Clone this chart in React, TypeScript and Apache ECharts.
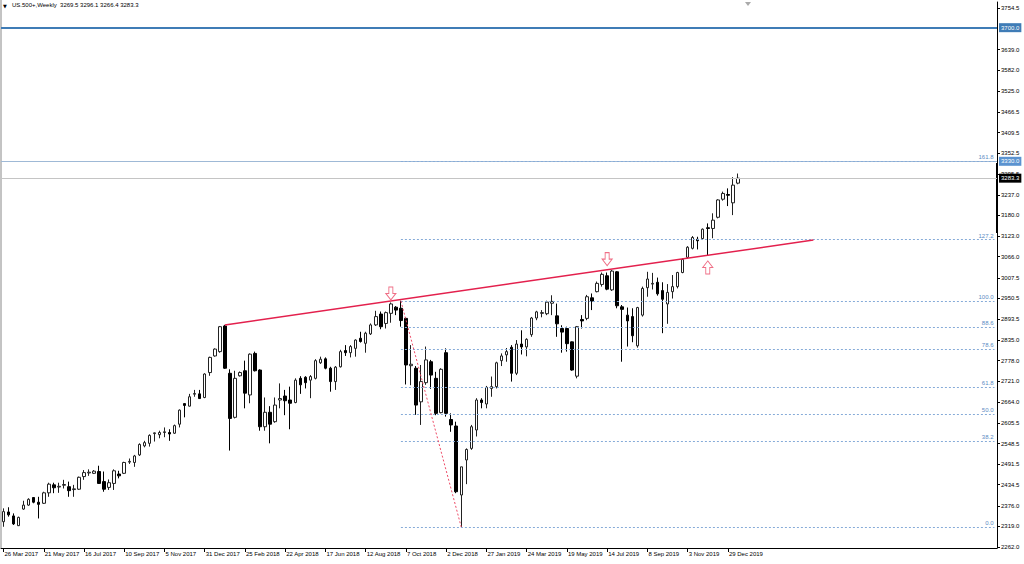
import React, { useEffect, useRef } from "react";
import * as echarts from "echarts";

// Weekly candles: [open, close, low, high], first week starts 26 Mar 2017
const candles: number[][] = [
  [2332,2360,2318,2369],[2359,2351,2346,2372],[2348,2326,2323,2355],[2321,2344,2320,2346],
  [2367,2378,2365,2390],[2378,2394,2376,2397],[2399,2386,2383,2400],[2386,2380,2341,2401],
  [2383,2412,2381,2415],[2412,2436,2401,2440],[2434,2426,2411,2440],[2428,2430,2412,2440],
  [2433,2435,2424,2448],[2429,2418,2401,2443],[2421,2423,2401,2434],[2422,2455,2420,2457],
  [2457,2468,2448,2475],[2467,2469,2459,2477],[2466,2472,2464,2475],[2471,2438,2437,2487],
  [2443,2422,2415,2471],[2427,2440,2420,2449],[2438,2473,2420,2477],[2464,2459,2452,2473],
  [2466,2496,2464,2498],[2497,2499,2492,2507],[2496,2514,2484,2517],[2517,2546,2514,2549],
  [2542,2551,2538,2556],[2549,2571,2540,2574],[2576,2578,2554,2579],[2573,2579,2563,2584],
  [2579,2581,2566,2593],[2579,2575,2556,2588],[2577,2598,2575,2601],[2602,2641,2593,2643],
  [2659,2654,2621,2660],[2652,2678,2651,2686],[2685,2687,2678,2697],[2686,2673,2672,2697],
  [2676,2741,2674,2743],[2745,2787,2736,2789],[2791,2810,2789,2812],[2803,2872,2800,2874],
  [2874,2757,2755,2877],[2743,2618,2529,2754],[2621,2729,2618,2750],[2736,2745,2734,2748],
  [2750,2688,2646,2778],[2683,2796,2660,2798],[2798,2750,2748,2803],[2752,2595,2584,2754],
  [2595,2635,2584,2676],[2635,2602,2549,2652],[2609,2655,2606,2676],[2669,2673,2646,2715],
  [2680,2667,2627,2697],[2669,2660,2588,2706],[2662,2724,2660,2729],[2729,2711,2686,2735],
  [2732,2717,2701,2735],[2724,2734,2674,2738],[2729,2778,2726,2782],[2772,2782,2769,2789],
  [2783,2757,2754,2787],[2757,2720,2692,2761],[2720,2760,2697,2763],[2761,2803,2759,2808],
  [2806,2800,2791,2821],[2800,2817,2787,2821],[2812,2835,2789,2837],[2840,2831,2828,2858],
  [2826,2854,2800,2858],[2852,2877,2849,2881],[2877,2900,2874,2916],[2907,2872,2865,2914],
  [2881,2911,2867,2914],[2909,2935,2883,2939],[2926,2918,2904,2929],[2923,2889,2872,2944],
  [2895,2766,2712,2898],[2764,2768,2710,2821],[2757,2655,2628,2763],[2664,2720,2600,2766],
  [2717,2780,2711,2817],[2775,2738,2700,2780],[2729,2632,2627,2747],[2634,2754,2632,2757],
  [2800,2632,2623,2812],[2615,2600,2581,2632],[2597,2415,2411,2609],[2406,2484,2317,2484],
  [2503,2532,2436,2535],[2535,2595,2531,2600],[2586,2669,2568,2674],[2669,2662,2646,2674],
  [2658,2704,2646,2708],[2701,2706,2678,2734],[2706,2772,2701,2775],[2778,2791,2763,2798],
  [2794,2803,2775,2813],[2815,2743,2720,2821],[2743,2824,2738,2835],[2824,2816,2795,2862],
  [2816,2837,2790,2840],[2850,2896,2844,2899],[2896,2913,2890,2916],[2909,2911,2898,2918],
  [2908,2940,2904,2944],[2937,2942,2904,2959],[2902,2880,2844,2936],[2867,2857,2800,2876],
  [2867,2825,2803,2872],[2830,2752,2750,2831],[2735,2872,2729,2874],[2892,2888,2867,2904],
  [2895,2955,2890,2960],[2952,2943,2918,2964],[2969,2992,2967,2997],[2989,3017,2983,3022],
  [3013,2976,2973,3022],[2974,3026,2971,3029],[3024,2930,2923,3026],[2927,2920,2775,2932],
  [2904,2888,2817,2925],[2900,2847,2829,2923],[2819,2925,2814,2927],[2904,2978,2900,2983],
  [2980,3004,2955,3024],[2990,2992,2975,3021],[2995,2963,2958,3008],[2972,2948,2854,2995],
  [2935,2967,2880,2990],[2969,2983,2950,3015],[2983,3022,2978,3024],[3022,3058,3020,3061],
  [3064,3092,3061,3095],[3089,3119,3086,3123],[3114,3110,3086,3121],[3116,3142,3112,3144],
  [3146,3144,3068,3158],[3144,3167,3117,3186],[3175,3223,3172,3225],[3225,3241,3221,3246],
  [3238,3236,3206,3255],[3215,3264,3181,3286],[3269.5,3283.3,3266.4,3296.1],
];

const totalWeeks = 198; // visible slots incl. empty space on the right
const yTicks = [2262.0, 2319.0, 2376.0, 2434.5, 2491.5, 2548.5, 2605.5, 2664.0, 2721.0, 2778.0,
  2835.0, 2893.5, 2950.5, 3007.5, 3066.0, 3123.0, 3180.0, 3237.0, 3295.5, 3352.5, 3409.5,
  3466.5, 3525.0, 3582.0, 3639.0, 3754.5];
const yMin = 2259.2;
const yMax = 3771.1;

const resistanceLevel = 3700.0;
const upperLevel = 3330.0;
const lastPrice = 3283.3;

const trendStart = [44, 2877];
const trendEnd = [161, 3112];

const fibHigh = { idx: 79, price: 2943 };
const fibLow = { idx: 91, price: 2317 };
const fibLevels = [0.0, 38.2, 50.0, 61.8, 78.6, 88.6, 100.0, 127.2, 161.8];

const arrowsDown = [[77, 2964], [120, 3059]];
const arrowsUp = [[140, 3036]];

const MONTHS = ["Jan","Feb","Mar","Apr","May","Jun","Jul","Aug","Sep","Oct","Nov","Dec"];
const categories: string[] = [];
for (let i = 0; i < totalWeeks; i++) {
  const d = new Date(Date.UTC(2017, 2, 26) + i * 7 * 86400000);
  categories.push(`${d.getUTCDate()} ${MONTHS[d.getUTCMonth()]} ${d.getUTCFullYear()}`);
}

const FONT = "Liberation Sans";
const arrowDownPath = "path://M3,0 L7,0 L7,6 L10,6 L5,12 L0,6 L3,6 Z";
const arrowUpPath = "path://M5,0 L10,6 L7,6 L7,12 L3,12 L3,6 L0,6 Z";

export default function App() {
  const ref = useRef<HTMLDivElement>(null);
  useEffect(() => {
    if (!ref.current) return;
    const chart = echarts.init(ref.current, undefined, { renderer: "svg" });
    const last = candles[candles.length - 1];
    const fibRange = fibHigh.price - fibLow.price;
    const fibLines = fibLevels.map((lvl) => {
      const p = fibLow.price + (fibRange * lvl) / 100;
      return [
        {
          coord: [fibHigh.idx, p],
          lineStyle: { color: "#86abd8", type: [2, 2], width: 1 },
          label: {
            show: true,
            position: "insideEndTop",
            formatter: lvl.toFixed(1),
            color: "#5b8cc4",
            fontSize: 6,
            fontFamily: FONT,
            distance: 1,
          },
        },
        { coord: [totalWeeks - 1, p] },
      ];
    });
    const lastIdx = candles.length - 1;
    const labelIdx = (i: number) => i % 8 === 0 && i <= lastIdx;
    chart.setOption({
      animation: false,
      backgroundColor: "#ffffff",
      grid: { left: 1, right: 27, top: 2, bottom: 16 },
      xAxis: {
        type: "category",
        data: categories,
        boundaryGap: true,
        axisLine: { show: true, lineStyle: { color: "#000", width: 1 } },
        axisTick: { show: true, interval: labelIdx, alignWithLabel: true, length: 4, lineStyle: { color: "#000" } },
        axisLabel: {
          interval: labelIdx,
          align: "left",
          margin: 3,
          padding: [0, 0, 0, 1],
          fontSize: 6,
          fontFamily: FONT,
          color: "#000",
        },
        splitLine: { show: false },
      },
      yAxis: {
        type: "value",
        position: "right",
        min: yMin,
        max: yMax,
        scale: true,
        axisLine: { show: true, lineStyle: { color: "#000", width: 1 } },
        axisTick: { show: true, customValues: yTicks, length: 3, lineStyle: { color: "#000" } },
        axisLabel: {
          customValues: yTicks,
          formatter: (v: number) => v.toFixed(1),
          fontSize: 6,
          fontFamily: FONT,
          color: "#000",
          margin: 4,
        },
        splitLine: { show: false },
      },
      graphic: [
        { type: "text", left: 3, top: 3, style: { text: "▼", fontSize: 5, fill: "#000", fontFamily: "DejaVu Sans" } },
        {
          type: "text",
          left: 12,
          top: 2,
          style: {
            text: `US.500+,Weekly  ${last[0].toFixed(1)} ${last[3].toFixed(1)} ${last[2].toFixed(1)} ${last[1].toFixed(1)}`,
            fontSize: 6,
            fill: "#000",
            fontFamily: FONT,
          },
        },
        { type: "line", shape: { x1: 1, y1: 0, x2: 1, y2: 548 }, style: { stroke: "#888", lineWidth: 1 } },
        { type: "line", shape: { x1: 997, y1: 163, x2: 997, y2: 233 }, style: { stroke: "#000", lineWidth: 2 } },
        { type: "polygon", shape: { points: [[745, 2], [751, 2], [748, 6]] }, style: { fill: "#aaa" } },
      ],
      series: [
        {
          type: "candlestick",
          data: candles,
          barWidth: 3,
          silent: true,
          itemStyle: {
            color: "#ffffff",
            color0: "#000000",
            borderColor: "#222222",
            borderColor0: "#000000",
            borderWidth: 1,
          },
          markLine: {
            silent: true,
            symbol: ["none", "none"],
            animation: false,
            data: [
              {
                yAxis: resistanceLevel,
                lineStyle: { color: "#3f7cb6", width: 2, type: "solid" },
                label: {
                  show: true, position: "end", distance: 2, formatter: resistanceLevel.toFixed(1),
                  backgroundColor: "#3f7cb6", color: "#fff", fontSize: 6, fontFamily: FONT, padding: [2, 2, 1, 2],
                },
              },
              {
                yAxis: upperLevel,
                lineStyle: { color: "#9fb9d6", width: 1, type: "solid" },
                label: {
                  show: true, position: "end", distance: 2, formatter: upperLevel.toFixed(1),
                  backgroundColor: "#5b93d0", color: "#fff", fontSize: 6, fontFamily: FONT, padding: [2, 2, 1, 2],
                },
              },
              {
                yAxis: lastPrice,
                lineStyle: { color: "#c4c4c4", width: 1, type: "solid" },
                label: {
                  show: true, position: "end", distance: 2, formatter: lastPrice.toFixed(1),
                  backgroundColor: "#000", color: "#fff", fontSize: 6, fontFamily: FONT, padding: [2, 2, 1, 2],
                },
              },
              ...fibLines,
              [
                { coord: trendStart, lineStyle: { color: "#e3204d", width: 1.5, type: "solid" }, label: { show: false } },
                { coord: trendEnd },
              ],
              [
                { coord: [fibHigh.idx, fibHigh.price], lineStyle: { color: "#ee4a66", width: 1, type: [2, 2] }, label: { show: false } },
                { coord: [fibLow.idx, fibLow.price] },
              ],
            ],
          },
          markPoint: {
            silent: true,
            animation: false,
            label: { show: false },
            data: [
              ...arrowsDown.map((a) => ({
                coord: a, symbol: arrowDownPath, symbolSize: [10, 13],
                itemStyle: { color: "#ffffff", borderColor: "#ef6f86", borderWidth: 1 },
              })),
              ...arrowsUp.map((a) => ({
                coord: a, symbol: arrowUpPath, symbolSize: [10, 13],
                itemStyle: { color: "#ffffff", borderColor: "#ef6f86", borderWidth: 1 },
              })),
            ],
          },
        },
      ],
    });
    return () => chart.dispose();
  }, []);
  return (
    <div
      ref={ref}
      style={{ position: "fixed", left: 0, top: 0, width: 1024, height: 564, background: "#fff" }}
    />
  );
}
